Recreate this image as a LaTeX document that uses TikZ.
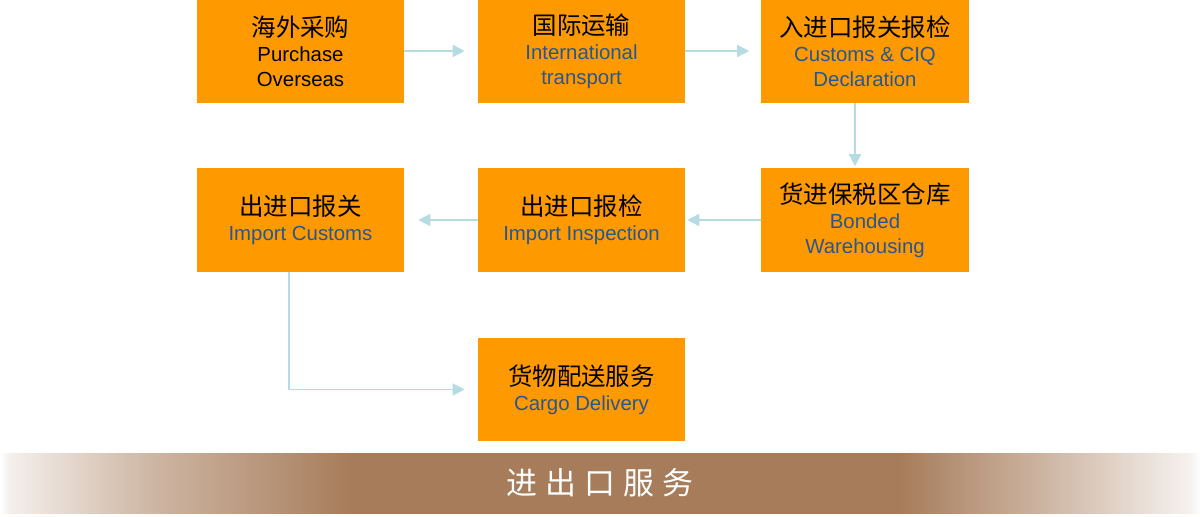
\documentclass[tikz,border=0pt]{standalone}
\usepackage{fontspec}
\setmainfont{Liberation Sans}
\newfontfamily\cjk{Noto Sans CJK SC}
\usetikzlibrary{arrows.meta, positioning}
\definecolor{boxorange}{HTML}{FF9900}
\definecolor{textblue}{HTML}{285690}
\definecolor{flowcyan}{HTML}{B5DCE2}
\definecolor{bandbrown}{HTML}{A77C5B}
\pgfdeclarehorizontalshading{bandfade}{100bp}{color(0bp)=(white); color(25bp)=(white);
  color(25.4bp)=(bandbrown!12); color(31.2bp)=(bandbrown!55); color(39.6bp)=(bandbrown);
  color(62.5bp)=(bandbrown); color(68.7bp)=(bandbrown!55); color(74.6bp)=(bandbrown!10);
  color(75bp)=(white); color(100bp)=(white)}
\newcommand{\cntext}[1]{{\color{black}\cjk\fontsize{17.4}{20}\selectfont #1}}

\begin{document}
\begin{tikzpicture}[x=0.025cm, y=-0.025cm,
    stepbox/.style={fill=boxorange, minimum width=5.175cm, minimum height=2.575cm,
                    inner sep=0pt, align=center, text=textblue,
                    font=\fontsize{14.5}{17.7}\selectfont},
    flow/.style={draw=flowcyan, line width=1pt, -{Triangle[length=0.3cm, width=0.3cm]}}
  ]
    \useasboundingbox (0,0) rectangle (1200,517);
    % first row
    \node[stepbox, text=black] (buy) at (300.5,51) {\cntext{海外采购}\\Purchase\\Overseas};
    \node[stepbox] (ship) at (581.5,51) {\cntext{国际运输}\\International\\transport};
    \node[stepbox] (clear) at (865,51) {\cntext{入进口报关报检}\\Customs \& CIQ\\Declaration};
    % second row
    \node[stepbox] (bond) at (865,220) {\cntext{货进保税区仓库}\\Bonded\\Warehousing};
    \node[stepbox] (insp) at (581.5,220) {\cntext{出进口报检}\\Import Inspection};
    \node[stepbox] (decl) at (300.5,220) {\cntext{出进口报关}\\Import Customs};
    % last step
    \node[stepbox] (deliver) at (581.5,389.5) {\cntext{货物配送服务}\\Cargo Delivery};

    \draw[flow, shorten >=0.325cm] (buy) -- (ship);
    \draw[flow, shorten >=0.3cm] (ship) -- (clear);
    \draw[flow, shorten >=0.05cm] ([xshift=-0.25cm]clear.south) -- ([xshift=-0.25cm]bond.north);
    \draw[flow, shorten >=0.05cm] (bond) -- (insp);
    \draw[flow, shorten >=0.35cm] (insp) -- (decl);
    \draw[flow, shorten >=0.325cm] ([xshift=-0.29cm]decl.south) |- (deliver);

    % title band
    \shade[shading=bandfade] (0,453) rectangle (1200,513);
    \node[text=white, font=\cjk\fontsize{22}{24}\selectfont] (title) at (600,483)
      {进\hspace{5.6pt}出\hspace{5.6pt}口\hspace{5.6pt}服\hspace{5.6pt}务};
\end{tikzpicture}
\end{document}
